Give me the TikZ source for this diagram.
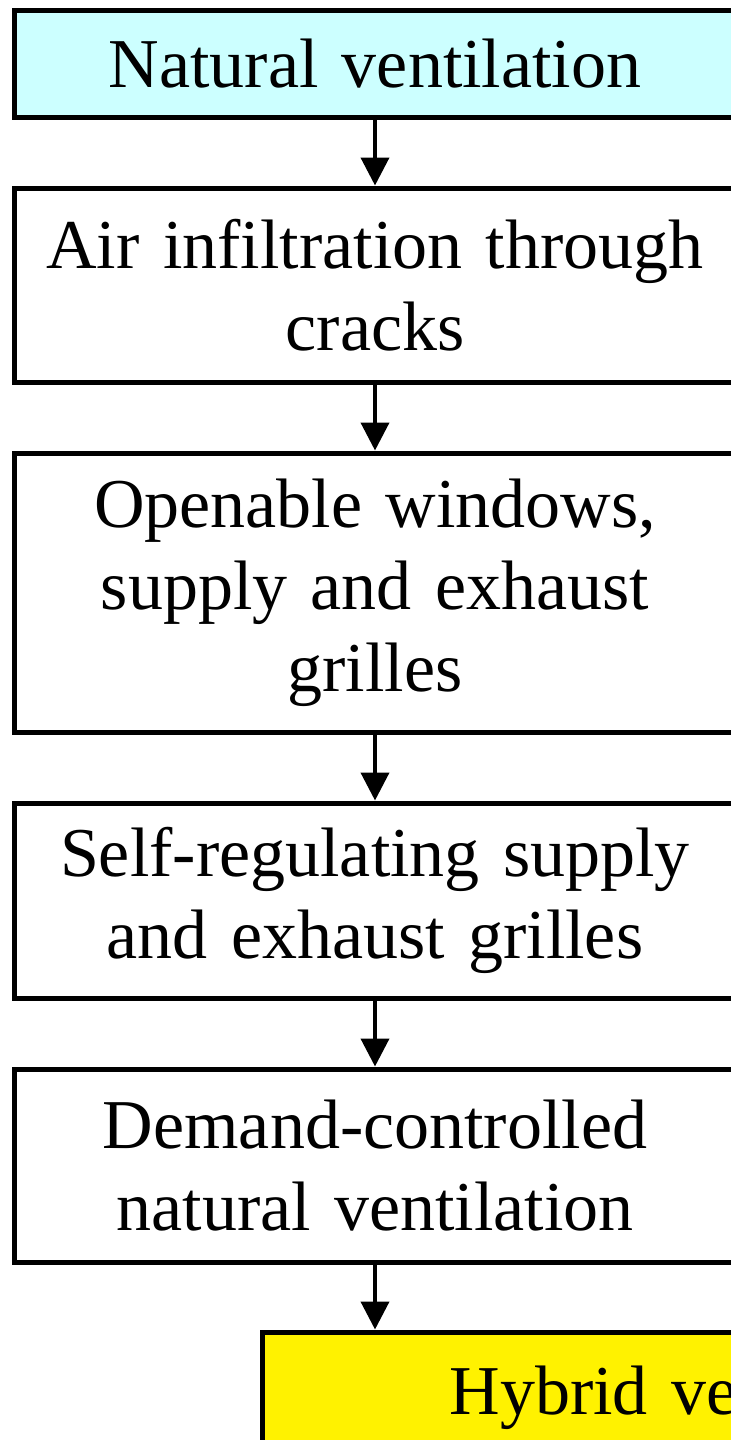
\documentclass[tikz,border=0pt]{standalone}
\usepackage{fontspec}
\setmainfont{Liberation Serif}
\usetikzlibrary{positioning,chains,arrows.meta}
\definecolor{lightcyan}{HTML}{CCFFFF}
\tikzset{
>={Triangle[length=14pt,width=14pt]},
ventbox/.style={ rectangle, draw=black, line width=2.5pt, minimum width=361pt, text width=350pt, align=center, font=\fontsize{35}{41}\selectfont},
punktchain/.style={ventbox, on chain},
line/.style={draw, line width=2pt, ->},
every join/.style={line},
}
\begin{document}
\begin{tikzpicture}
[node distance=33pt, start chain=going below,]
\clip (0,0) rectangle (365.5pt,-720pt);

\node[punktchain, fill=lightcyan, minimum height=53.5pt] (natural) at (187.5pt,-31.75pt) {Natural ventilation};
\node[punktchain, join, minimum height=97pt] (cracks) {Air infiltration through\\cracks};
\node[punktchain, join, minimum height=139.5pt] (windows) {Openable windows,\\supply and exhaust\\grilles};
\node[punktchain, join, minimum height=97.5pt] (selfreg) {Self-regulating supply\\and exhaust grilles};
\node[punktchain, join, minimum height=96.5pt] (demand) {Demand-controlled\\natural ventilation};

\node[ventbox, fill=yellow, minimum width=448pt, text width=438pt, minimum height=66pt, anchor=north west] (hybrid) at ([xshift=124pt,yshift=-32.5pt]demand.south west) {Hybrid ventilation};
\draw[line] (demand.south) -- (demand.south |- hybrid.north);

\end{tikzpicture}
\end{document}
